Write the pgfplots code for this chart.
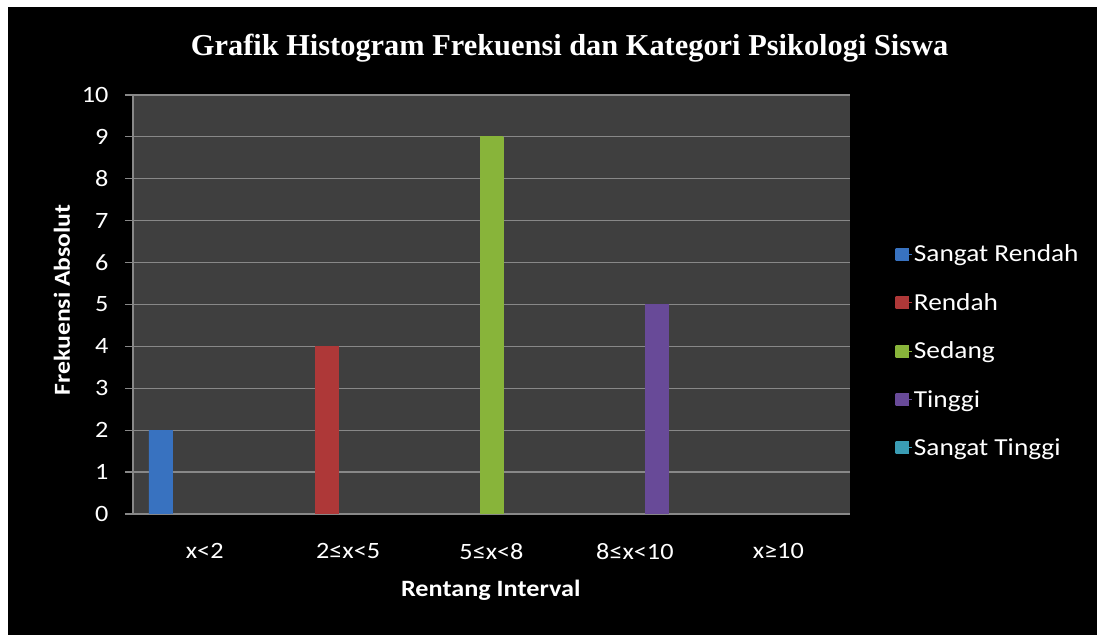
\documentclass[border=0pt]{standalone}
\usepackage{pgfplots}
\pgfplotsset{compat=1.18}
\usepackage{fontspec}
\setmainfont{Carlito}[FakeStretch=1.12]
\newfontfamily\titlefont{Liberation Serif}
\definecolor{plotgray}{HTML}{3F3F3F}
\definecolor{gridgray}{HTML}{888888}
\definecolor{bBlue}{HTML}{5AA0F0}\definecolor{dBlue}{HTML}{3872C0}
\definecolor{bRed}{HTML}{E85858}\definecolor{dRed}{HTML}{AE3838}
\definecolor{bGreen}{HTML}{B2E055}\definecolor{dGreen}{HTML}{88B43A}
\definecolor{bPurple}{HTML}{9670C8}\definecolor{dPurple}{HTML}{684A98}
\definecolor{bAqua}{HTML}{5CCDE4}\definecolor{dAqua}{HTML}{3A9CB4}
\begin{document}
\begin{tikzpicture}
\fill[white] (0,0) rectangle (1097bp,635bp);
\fill[black] (8bp,0) rectangle (1097bp,628bp);
\begin{axis}[
  at={(133bp,121bp)}, anchor=south west,
  scale only axis, width=717bp, height=419bp,
  xmin=-0.5, xmax=4.5, ymin=0, ymax=10,
  axis x line=bottom, axis y line=left,
  axis line style={-, gridgray, line width=1.5bp},
  axis background/.style={fill=plotgray},
  ymajorgrids, grid style={gridgray, line width=1.2bp},
  ytick={0,1,...,10},
  ytick align=outside, major tick length=8bp,
  tick style={gridgray, line width=1.2bp},
  xtick={0,1,2,3,4},
  xtick style={draw=none},
  xticklabels={x<2, 2≤x<5, 5≤x<8, 8≤x<10, x≥10},
  /pgf/number format/assume math mode=true,
  ticklabel style={text=white, font=\fontsize{23.5}{27}\selectfont},
  yticklabel style={xshift=-13bp},
  xticklabel style={yshift=-18bp},
  title={\titlefont\bfseries Grafik Histogram Frekuensi dan Kategori Psikologi Siswa},
  title style={at={(0.609,1.098)}, anchor=center, text=white, font=\fontsize{30.5}{34}\selectfont},
  xlabel={Rentang Interval},
  xlabel style={at={(0.499,-0.181)}, anchor=center, text=white, font=\bfseries\fontsize{23.5}{27}\selectfont},
  ylabel={Frekuensi Absolut},
  ylabel style={at={(-0.099,0.511)}, anchor=center, rotate=0, text=white, font=\bfseries\fontsize{23}{27}\selectfont},
  ybar, bar width=0.16,
  legend style={at={(1.059,0.652)}, anchor=north west, draw=none, fill=none,
    text=white, font=\fontsize{24.5}{28}\selectfont, row sep=26bp,
    cells={anchor=west}},
  legend image code/.code={\fill[#1] (0bp,-6bp) rectangle (12bp,6bp);\path (0bp,0bp) -- (16bp,0bp);},
]
\addplot[bar shift=-0.31, draw=dBlue, left color=dBlue, middle color=bBlue, right color=dBlue] coordinates {(0,2)};
\addplot[bar shift=-0.15, draw=dRed, left color=dRed, middle color=bRed, right color=dRed] coordinates {(1,4)};
\addplot[bar shift=0, draw=dGreen, left color=dGreen, middle color=bGreen, right color=dGreen] coordinates {(2,9)};
\addplot[bar shift=0.155, draw=dPurple, left color=dPurple, middle color=bPurple, right color=dPurple] coordinates {(3,5)};
\addplot[bar shift=0.31, draw=dAqua, left color=dAqua, middle color=bAqua, right color=dAqua] coordinates {(4,0)};
\legend{Sangat Rendah, Rendah, Sedang, Tinggi, Sangat Tinggi}
\end{axis}
\pgfresetboundingbox
\useasboundingbox (0,0) rectangle (1097bp,635bp);
\end{tikzpicture}
\end{document}
